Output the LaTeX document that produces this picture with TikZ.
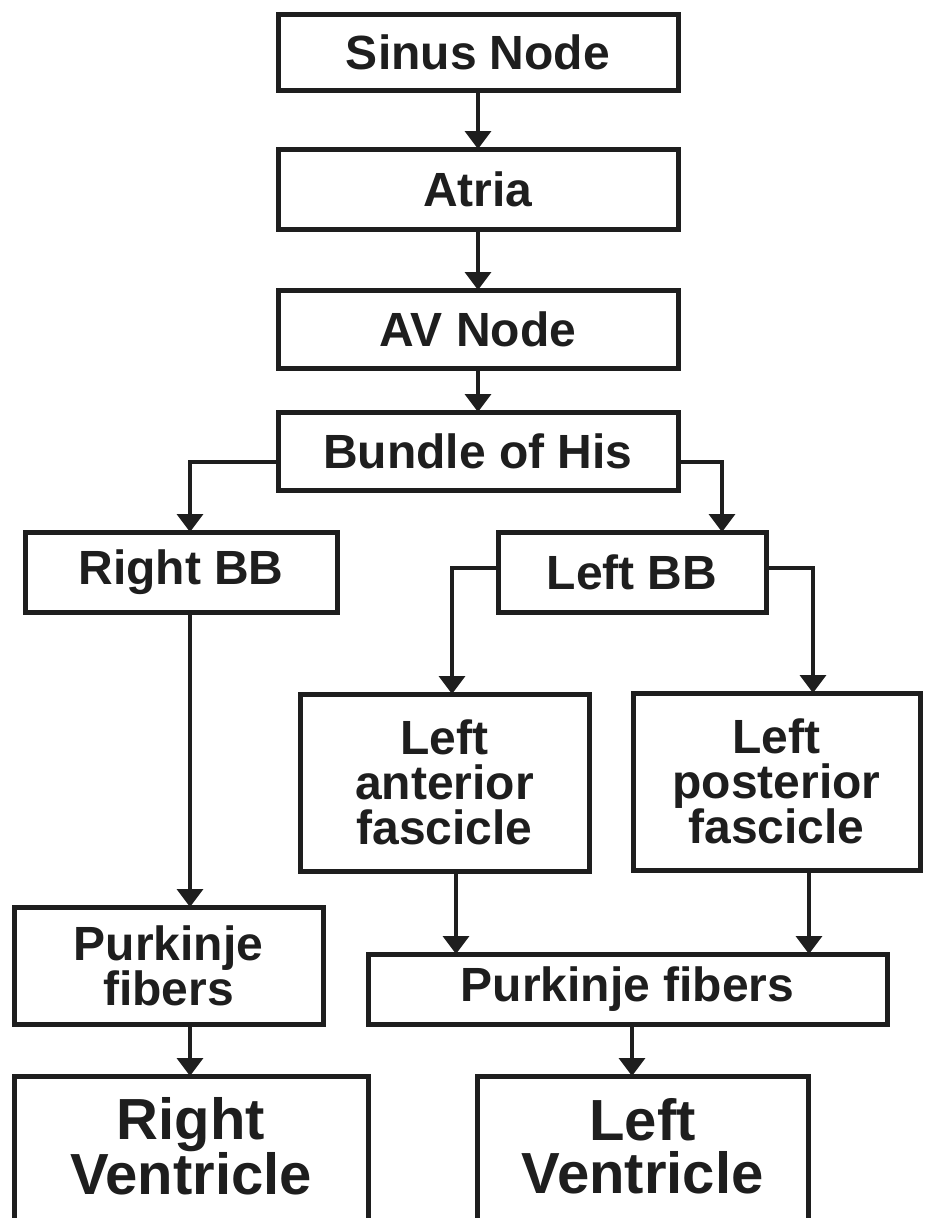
\documentclass[tikz,border=0pt]{standalone}
\usepackage{fontspec}
\setmainfont{Liberation Sans}
\usetikzlibrary{arrows.meta}
\definecolor{ink}{HTML}{1E1E1E}
\begin{document}
\begin{tikzpicture}[x=1pt,y=-1pt,
  box/.style={draw=ink, line width=5pt, rectangle, inner sep=0pt, outer sep=0pt, align=center, text=ink,
    font=\bfseries\fontsize{48}{45}\selectfont},
  bigbox/.style={box, font=\bfseries\fontsize{58}{53}\selectfont, text depth=10pt},
  conn/.style={draw=ink, line width=3.5pt, -{Triangle[width=26pt,length=18pt]}}]
\clip (0,0) rectangle (925,1218);
\fill[white] (0,0) rectangle (925,1218);
% nodes
\node[box, minimum width=400, minimum height=76] (sinus) at (478,52) {Sinus Node};
\node[box, minimum width=400, minimum height=80] (atria) at (478,189) {Atria};
\node[box, minimum width=400, minimum height=78] (av) at (478,329) {AV Node};
\node[box, minimum width=400, minimum height=78] (bundle) at (478,451) {Bundle of His};
\node[box, minimum width=312, minimum height=80] (rbb) at (181,572) {Right BB};
\node[box, minimum width=268, minimum height=80] (lbb) at (632,572) {Left BB};
\node[box, minimum width=289, minimum height=177] (lant) at (444.5,782.5) {Left\\anterior\\fascicle};
\node[box, minimum width=287, minimum height=177] (lpost) at (776.5,781.5) {Left\\posterior\\fascicle};
\node[box, minimum width=309, minimum height=117] (rpurk) at (168.5,965.5) {Purkinje\\fibers};
\node[box, minimum width=519, minimum height=70] (purk) at (627.5,989) {Purkinje fibers};
\node[bigbox, minimum width=354, minimum height=150] (rv) at (191,1151) {Right\\Ventricle};
\node[bigbox, minimum width=331, minimum height=150] (lv) at (642.5,1151) {Left\\Ventricle};
% guide coordinates
\coordinate (xc) at (478,0);
\coordinate (xr) at (190,0);
\coordinate (xl) at (722,0);
\coordinate (xa) at (452,0);
\coordinate (xa2) at (456,0);
\coordinate (xp) at (813,0);
\coordinate (xp2) at (809,0);
\coordinate (xlv) at (632,0);
\coordinate (yb) at (0,462);
\coordinate (yl) at (0,568);
% connectors
\draw[conn] (sinus.south -| xc) -- (atria.north -| xc);
\draw[conn] (atria.south -| xc) -- (av.north -| xc);
\draw[conn] (av.south -| xc) -- (bundle.north -| xc);
\draw[conn] (bundle.west |- yb) -| (rbb.north -| xr);
\draw[conn] (bundle.east |- yb) -| (lbb.north -| xl);
\draw[conn] (lbb.west |- yl) -| (lant.north -| xa);
\draw[conn] (lbb.east |- yl) -| (lpost.north -| xp);
\draw[conn] (rbb.south -| xr) -- (rpurk.north -| xr);
\draw[conn] (lant.south -| xa2) -- (purk.north -| xa2);
\draw[conn] (lpost.south -| xp2) -- (purk.north -| xp2);
\draw[conn] (rpurk.south -| xr) -- (rv.north -| xr);
\draw[conn] (purk.south -| xlv) -- (lv.north -| xlv);
\end{tikzpicture}
\end{document}
